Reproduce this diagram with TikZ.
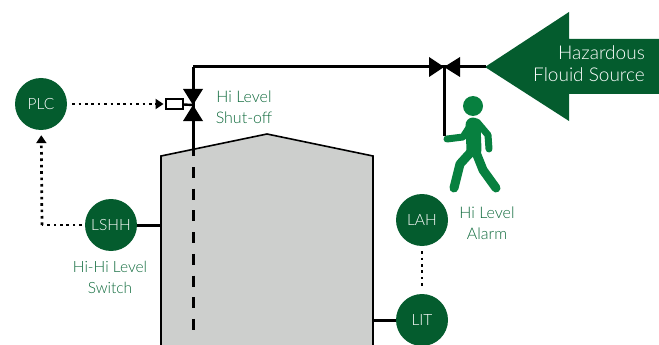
\documentclass[tikz,border=0pt]{standalone}
\usepackage{fontspec}
\setmainfont{Lato Light}
\usetikzlibrary{arrows.meta}
\definecolor{darkgreen}{HTML}{045C2E}
\definecolor{mangreen}{HTML}{07803F}
\definecolor{labelgreen}{HTML}{0F6A3C}
\definecolor{tankgrey}{HTML}{CDCFCD}
\tikzset{
  inst/.style={circle,fill=darkgreen,text=white,minimum size=52pt,inner sep=0pt,font=\fontsize{15.5}{18}\selectfont},
  tag/.style={text=labelgreen,align=center,inner sep=0pt,font=\fontsize{16}{21}\selectfont},
  pipe/.style={line width=3pt},
  signal/.style={line width=2.7pt,dash pattern=on 2.6pt off 3.8pt,shorten <=5pt},
  sigarrow/.style={signal,-{Triangle[length=8pt,width=10pt,sep=0pt]}},
  limb/.style={draw=mangreen,line width=8pt,line cap=round,line join=round},
}
\begin{document}
\begin{tikzpicture}[x=1pt,y=-1pt]
  \useasboundingbox (0,0) rectangle (659,345);
  % tank
  \fill[tankgrey] (161,345) -- (161,156) -- (267,134) -- (373,156) -- (373,345);
  \draw[line width=1.6pt] (161,345) -- (161,156) -- (267,134) -- (373,156) -- (373,345);

  % instruments
  \node[inst] (plc) at (41,104)  {PLC};
  \node[inst] (lshh) at (111,225) {LSHH};
  \node[inst] (lah) at (422,220) {LAH};
  \node[inst] (lit) at (422,320) {LIT};

  % shut-off valve
  \coordinate (sov) at (193,105);
  \coordinate (corner) at (193,67);
  \coordinate (roof) at (193,156);
  \coordinate (dipstart) at (193,167);
  \coordinate (dipend) at (193,331);
  \node[draw,line width=2pt,fill=white,minimum width=17pt,minimum height=9pt,inner sep=0pt] (act) at (174,104) {};
  \draw[pipe] (roof) -- (sov) -- (corner);
  \draw[pipe,dash pattern=on 11pt off 10.7pt] (dipstart) -- (dipend);
  \draw[line width=2.4pt] (act) -- (sov);
  \fill (sov) -- (183,89) -- (203,89) -- cycle;
  \fill (sov) -- (183,121) -- (203,121) -- cycle;

  % source arrow
  \fill[darkgreen] (485,67) -- (569,12) -- (569,39) -- (659,39) -- (659,94) -- (569,94) -- (569,121) -- cycle;
  \coordinate (src) at (486,67);
  \node[text=white,align=right,anchor=east,inner sep=0pt,font=\fontsize{19}{22}\selectfont] (srclabel) at (645,64) {Hazardous\\Flouid Source};

  % manual valve
  \coordinate (mv) at (444,67);
  \coordinate (hand) at (444,136);
  \draw[pipe] (corner) -- (mv) -- (src);
  \draw[pipe] (mv) -- (hand);
  \fill (mv) -- (429,57) -- (429,77) -- cycle;
  \fill (mv) -- (460,57) -- (460,77) -- cycle;

  % man
  \fill[mangreen] (473,106) circle (10pt);
  \draw[limb,line width=7pt] (447,139) -- (463,137) -- (472,123);
  \draw[limb,line width=7pt] (477,122) -- (488,135) -- (489,149);
  \draw[limb,line width=15pt] (473,125) -- (474,150);
  \draw[limb,line width=9pt] (470,153) -- (460,164) -- (454,188);
  \draw[limb,line width=9pt] (475,150) -- (483,170) -- (496,188);

  % signal lines
  \coordinate (bend) at (42,225);
  \draw[sigarrow,shorten >=1pt] (plc) -- (act);
  \draw[signal,shorten <=3pt] (lshh) -- (bend);
  \draw[sigarrow,shorten <=0pt,shorten >=5pt] (bend) -- (plc);
  \draw[signal,shorten >=5pt] (lah) -- (lit);

  % impulse lines
  \coordinate (lshhtap) at (161,225);
  \coordinate (littap) at (373,320);
  \draw[pipe] (lshh) -- (lshhtap);
  \draw[pipe] (lit) -- (littap);

  % labels
  \node[tag] (sovlabel) at (244,107) {Hi Level\\Shut-off};
  \node[tag,font=\fontsize{15.5}{21}\selectfont] (lshhlabel) at (110,277) {Hi-Hi Level\\Switch};
  \node[tag] (alarmlabel) at (487,223) {Hi Level\\Alarm};
\end{tikzpicture}
\end{document}
